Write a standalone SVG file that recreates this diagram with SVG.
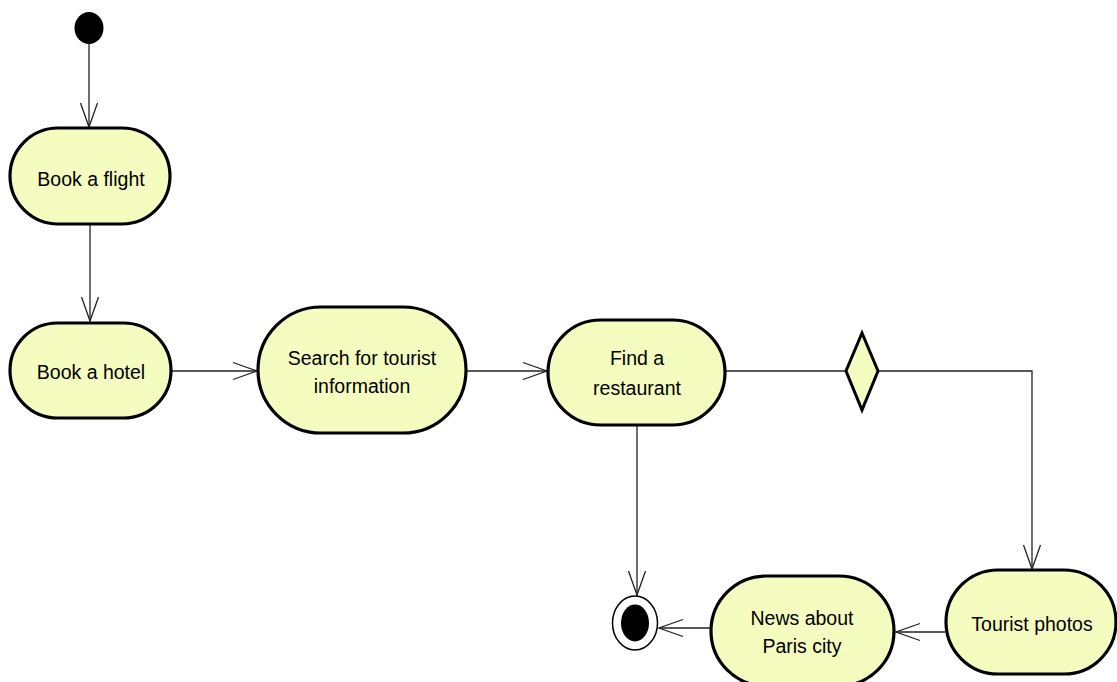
<svg xmlns="http://www.w3.org/2000/svg" width="1117" height="682" viewBox="0 0 1117 682">
<style>
.act{fill:#f4fcc0;stroke:#000;stroke-width:3.2}
.lbl{font-family:"Liberation Sans",Arial,sans-serif;font-size:19.5px;fill:#000;text-anchor:middle}
.edge{fill:none;stroke:#222;stroke-width:1.3}
</style>
<defs>
<marker id="open" markerUnits="userSpaceOnUse" markerWidth="30" markerHeight="24" viewBox="-26 -12 30 24" refX="0" refY="0" orient="auto">
<path d="M-24,-8.5 L0,0 L-24,8.5" fill="none" stroke="#222" stroke-width="1.3"/>
</marker>
</defs>
<rect width="1117" height="682" fill="#fff"/>
<g id="connectors">
<line class="edge" x1="89" y1="44" x2="89" y2="127" marker-end="url(#open)"/>
<line class="edge" x1="90" y1="225" x2="90" y2="321" marker-end="url(#open)"/>
<line class="edge" x1="172" y1="371" x2="257" y2="371" marker-end="url(#open)"/>
<line class="edge" x1="467" y1="371" x2="547" y2="371" marker-end="url(#open)"/>
<line class="edge" x1="726" y1="371" x2="846" y2="371"/>
<polyline class="edge" points="878,371 1032,371 1032,569" marker-end="url(#open)"/>
<line class="edge" x1="637" y1="426" x2="637" y2="595" marker-end="url(#open)"/>
<line class="edge" x1="945" y1="632" x2="896" y2="632" marker-end="url(#open)"/>
<line class="edge" x1="710" y1="628" x2="659" y2="628" marker-end="url(#open)"/>
</g>
<g id="start"><ellipse cx="89" cy="28" rx="14.5" ry="16" fill="#000"/></g>
<g id="book-flight"><rect class="act" x="10" y="128" width="160" height="96" rx="48" ry="48"/><text class="lbl" x="91" y="186">Book  a flight</text></g>
<g id="book-hotel"><rect class="act" x="10" y="323" width="161" height="95" rx="47.5" ry="47.5"/><text class="lbl" x="91" y="379">Book  a hotel</text></g>
<g id="search"><rect class="act" x="258" y="307" width="208" height="126" rx="63" ry="63"/><text class="lbl" x="362" y="365">Search for tourist</text><text class="lbl" x="362" y="393">information</text></g>
<g id="restaurant"><rect class="act" x="548" y="320" width="177" height="105" rx="52.5" ry="52.5"/><text class="lbl" x="637" y="365">Find a</text><text class="lbl" x="637" y="395">restaurant</text></g>
<g id="decision"><polygon points="862,333 878,371 862,410 846,371" fill="#f4fcc0" stroke="#000" stroke-width="3"/></g>
<g id="tourist-photos"><rect class="act" x="946" y="570" width="170" height="104" rx="52" ry="52"/><text class="lbl" x="1032" y="631">Tourist photos</text></g>
<g id="news"><rect class="act" x="711" y="576" width="183" height="110" rx="55" ry="55"/><text class="lbl" x="802" y="625">News about</text><text class="lbl" x="802" y="653">Paris city</text></g>
<g id="end"><ellipse cx="635" cy="623" rx="22.5" ry="27" fill="#fff" stroke="#000" stroke-width="1.5"/><ellipse cx="635" cy="623" rx="14" ry="18.5" fill="#000"/></g>
</svg>
